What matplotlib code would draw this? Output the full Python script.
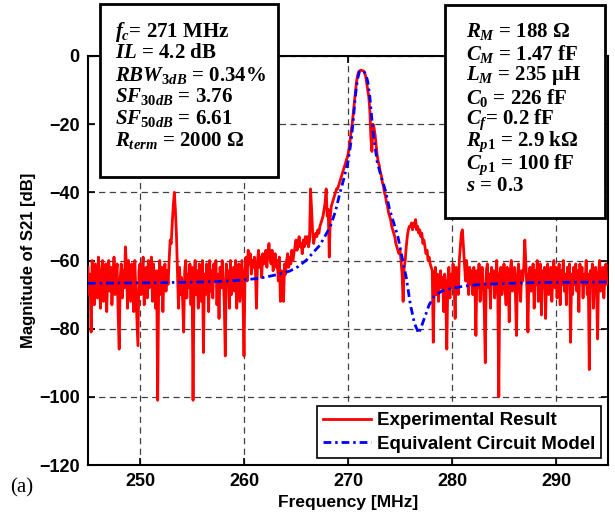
import numpy as np
import matplotlib
matplotlib.use("Agg")
import matplotlib.pyplot as plt
from matplotlib.patches import Rectangle

# measured S21 (dB), sweep 245 -> 295 MHz in 0.1 MHz steps (one row = 1 MHz)
freq_start, freq_step = 245.0, 0.1
s21_meas = [
    -62, -70, -64, -81, -60, -68, -73, -61, -66, -71,
    -59, -67, -74, -63, -60, -72, -65, -61, -75, -64,
    -60, -69, -62, -73, -66, -59, -70, -64, -61, -76,
    -86, -65, -61, -71, -63, -68, -56, -62, -74, -60,
    -66, -72, -61, -64, -75, -60, -69, -77, -85, -63,
    -61, -70, -64, -59, -73, -66, -62, -71, -60, -68,    # 250
    -64, -59, -72, -61, -67, -74, -63, -101, -66, -60,
    -70, -62, -75, -64, -61, -69, -63, -67, -60, -54,
    -55, -49, -44, -40, -45, -52, -63, -74, -62, -70,
    -65, -72, -81, -63, -60, -71, -64, -68, -61, -73,
    -62, -101, -66, -60, -70, -63, -74, -61, -67, -72,   # 255
    -60, -87, -64, -70, -61, -66, -75, -60, -69, -63,
    -71, -61, -66, -60, -73, -64, -77, -62, -68, -60,
    -65, -72, -88, -61, -67, -63, -74, -60, -70, -66,
    -62, -69, -60, -74, -64, -61, -72, -66, -60, -71,
    -88, -63, -59, -66, -57, -61, -58, -64, -60, -62,    # 260
    -59, -63, -74, -60, -57, -62, -59, -65, -58, -61,
    -60, -57, -62, -58, -55, -59, -61, -57, -63, -60,
    -58, -62, -60, -66, -59, -72, -63, -65, -72, -61,
    -64, -60, -58, -62, -59, -61, -57, -60, -58, -56,
    -54, -57, -55, -53, -56, -55, -58, -54, -56, -53,    # 265
    -55, -53, -56, -54, -39, -45, -52, -55, -53, -52,
    -53, -51, -52, -50, -49, -48, -47, -45, -43, -39,
    -47, -45, -59, -47, -44, -43, -42, -41, -40, -39,
    -39, -38, -37, -36, -35, -34, -33, -32, -31, -30,
    -29, -27, -25, -22, -20, -17, -14, -11, -8, -6,      # 270
    -4.8, -4.4, -4.2, -4.2, -4.3, -4.4, -5, -6, -8, -10,
    -12, -16, -24, -28, -20, -21, -23, -26, -29, -31,
    -32, -34, -35, -37, -38, -40, -41, -43, -44, -46,
    -47, -48, -50, -51, -52, -53, -55, -56, -57, -58,
    -57, -60, -64, -72, -62, -60, -56, -53, -51, -50,    # 275
    -50, -49, -51, -49, -50, -48, -51, -50, -52, -51,
    -53, -52, -55, -54, -56, -58, -57, -60, -59, -61,
    -62, -63, -84, -66, -62, -70, -64, -72, -66, -63,
    -68, -65, -75, -64, -70, -86, -66, -62, -71, -64,
    -68, -61, -66, -77, -62, -64, -70, -60, -56, -52,    # 280
    -51, -56, -61, -66, -60, -64, -70, -62, -67, -63,
    -70, -62, -66, -82, -63, -68, -61, -72, -65, -62,
    -67, -74, -90, -63, -61, -68, -64, -74, -62, -66,
    -63, -71, -66, -60, -69, -100, -64, -62, -70, -65,
    -61, -68, -73, -62, -66, -78, -63, -60, -69, -64,    # 285
    -62, -70, -82, -64, -61, -67, -72, -63, -66, -62,
    -54, -61, -68, -81, -64, -62, -69, -65, -61, -74,
    -63, -67, -60, -72, -64, -61, -76, -63, -68, -62,
    -77, -64, -61, -70, -66, -62, -72, -64, -60, -68,
    -62, -71, -65, -61, -73, -63, -67, -60, -69, -64,    # 290
    -73, -62, -66, -61, -84, -64, -70, -62, -67, -61,
    -69, -63, -75, -61, -66, -62, -71, -64, -67, -60,
    -70, -64, -92, -63, -66, -61, -74, -65, -62, -68,
    -83, -63, -60, -69, -64, -62, -71, -65, -61, -67,
    -66,
]

# equivalent circuit model
model_freq = [245, 248, 252, 256, 258, 260, 261.5, 262.5, 263.5, 264.4, 265.2,
              266.0, 266.7, 267.3, 267.8, 268.3, 268.8, 269.2, 269.6, 270.0,
              270.3, 270.5, 270.7, 270.9, 271.1, 271.3, 271.5, 271.7, 271.9,
              272.1, 272.4, 272.8, 273.2, 273.6, 274.0, 274.4, 274.8, 275.2,
              275.6, 276.0, 276.4, 276.8, 277.1, 277.4, 277.8, 278.3, 279.0,
              279.8, 281, 282.7, 285, 287.5, 291, 295]
model_s21 = [-66.7, -66.6, -66.5, -66.3, -66.1, -65.7, -65.2, -64.6, -63.9, -63.1,
             -61.8, -59.9, -57.5, -55.5, -52.8, -50, -45.5, -40.5, -36, -31,
             -25, -19, -12, -7, -4.6, -4.4, -4.5, -5.2, -7.5, -12, -22, -31,
             -35.5, -39.5, -45, -49, -53, -59, -65, -73, -78.5, -81.4, -79,
             -76.5, -73, -70.5, -69, -68.3, -67.6, -67, -66.8, -66.5, -66.4, -66.3]

left_lines = [r'$f_c$= 271 MHz', r'$IL$ = 4.2 dB', r'$RBW_{\mathit{3dB}}$ = 0.34%',
              r'$SF_{\mathit{30dB}}$ = 3.76', r'$SF_{\mathit{50dB}}$ = 6.61',
              r'$R_{term}$ = 2000 Ω']
right_lines = [r'$R_M$ = 188 Ω', r'$C_M$ = 1.47 fF', r'$L_M$ = 235 μH',
               r'$C_{\mathit{0}}$ = 226 fF', r'$C_f$= 0.2 fF', r'$R_{\mathit{p1}}$ = 2.9 kΩ',
               r'$C_{\mathit{p1}}$ = 100 fF', r'$s$ = 0.3']

plt.rcParams['font.family'] = ['Liberation Sans', 'DejaVu Sans']
plt.rcParams['mathtext.fontset'] = 'custom'
plt.rcParams['mathtext.it'] = 'Liberation Serif:italic:bold'
plt.rcParams['mathtext.rm'] = 'Liberation Serif:bold'
plt.rcParams['mathtext.bf'] = 'Liberation Serif:bold'

W, H = 615, 519
fig = plt.figure(figsize=(W / 100, H / 100), dpi=100)
ax = fig.add_axes([88 / W, 1 - 465 / H, 520 / W, 409 / H])

f_meas = np.arange(len(s21_meas)) * freq_step + freq_start
ax.plot(f_meas, s21_meas, color='red', lw=2, label='Experimental Result', zorder=3)
ax.plot(model_freq, model_s21, color='blue', lw=2, ls=(0, (2.8, 1.4, 0.9, 1.4)),
        label='Equivalent Circuit Model', zorder=4)

ax.set_xlim(245, 295)
ax.set_ylim(-120, 0)
ax.set_xticks(np.arange(250, 291, 10))
ax.set_yticks(np.arange(-120, 1, 20))
ax.grid(True, color='0.25', ls=(0, (5, 3.5)), lw=0.9)
ax.tick_params(direction='in', top=True, right=True, length=5, width=1.2,
               labelsize=13, pad=6)
for lab in ax.get_xticklabels() + ax.get_yticklabels():
    lab.set_fontweight('bold')
for sp in ax.spines.values():
    sp.set_linewidth(1.5)

ax.set_xlabel('Frequency [MHz]', fontsize=12.5, fontweight='bold', labelpad=3)
ax.set_ylabel('Magnitude of S21 [dB]', fontsize=12, fontweight='bold', labelpad=2)

leg = ax.legend(loc='lower right', fontsize=13.5, fancybox=False, framealpha=1,
                edgecolor='black', handlelength=2.55, borderaxespad=0.35,
                labelspacing=0.35, borderpad=0.3, handletextpad=0.35)
leg.get_frame().set_linewidth(1.2)
for t in leg.get_texts():
    t.set_fontweight('bold')

# parameter boxes (drawn over the axes, as in the original figure)
fig.add_artist(Rectangle((100 / W, 1 - 177 / H), 178 / W, 173 / H, transform=fig.transFigure,
                         facecolor='white', edgecolor='black', lw=2, zorder=5))
for i, s in enumerate(left_lines):
    fig.text(115 / W, 1 - (31.7 + i * 21.7) / H, s, family='Liberation Serif',
             fontweight='bold', fontsize=15, va='center', ha='left', zorder=6)

fig.add_artist(Rectangle((445 / W, 1 - 218 / H), 160 / W, 213 / H, transform=fig.transFigure,
                         facecolor='white', edgecolor='black', lw=2, zorder=5))
for i, s in enumerate(right_lines):
    fig.text(466 / W, 1 - (31.7 + i * 22.1) / H, s, family='Liberation Serif',
             fontweight='bold', fontsize=15, va='center', ha='left', zorder=6)

fig.text(10 / W, 1 - 488 / H, '(a)', family='Liberation Serif', fontsize=15,
         va='center', ha='left')

fig.savefig('out.png', dpi=100)
